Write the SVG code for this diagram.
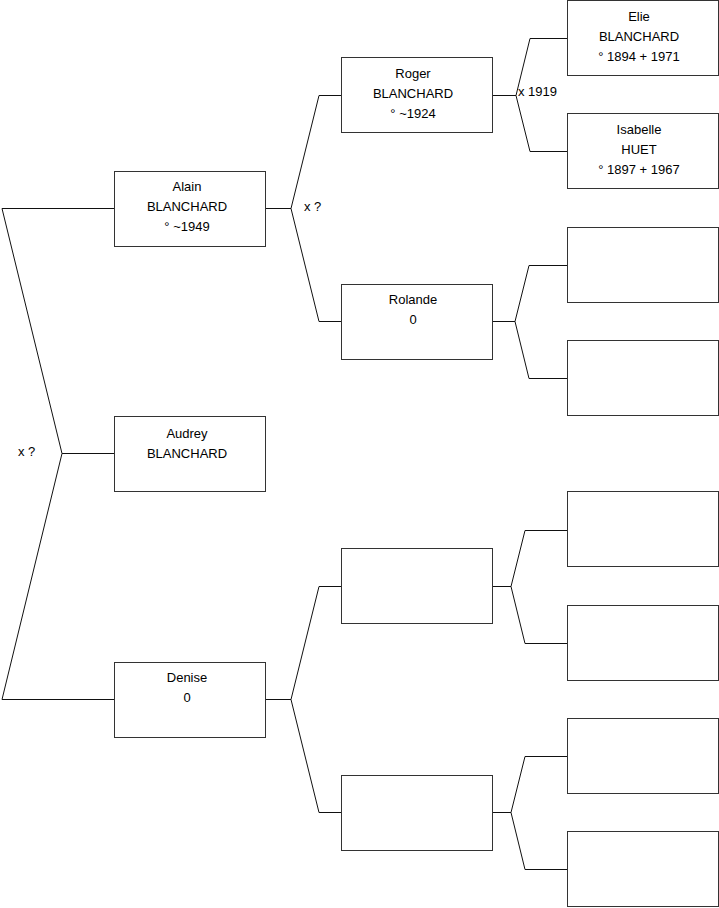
<svg xmlns="http://www.w3.org/2000/svg" width="719" height="908" viewBox="0 0 719 908">
<style>
.box{fill:#fff;stroke:#333;stroke-width:1}
.ln{fill:none;stroke:#111;stroke-width:1}
text{font-family:"Liberation Sans",Arial,sans-serif;font-size:13px;fill:#000}
.c{text-anchor:middle}
</style>
<rect width="719" height="908" fill="#fff"/>
<g id="connectors">
<polyline class="ln" points="114,208.5 2,208.5 62,453.5 2,699.5 114,699.5"/>
<polyline class="ln" points="62,453.5 114,453.5"/>
<polyline class="ln" points="265,208.5 291,208.5"/>
<polyline class="ln" points="341,95.5 319,95.5 291,208.5 319,321.5 341,321.5"/>
<polyline class="ln" points="265,699.5 291,699.5"/>
<polyline class="ln" points="341,586.5 319,586.5 291,699.5 319,812.5 341,812.5"/>
<polyline class="ln" points="492,95.5 516,95.5"/>
<polyline class="ln" points="567,38.5 530,38.5 516,95.5 530,151.5 567,151.5"/>
<polyline class="ln" points="492,321.5 515,321.5"/>
<polyline class="ln" points="567,265.5 529,265.5 515,321.5 529,378.5 567,378.5"/>
<polyline class="ln" points="492,586.5 511,586.5"/>
<polyline class="ln" points="567,530.5 525,530.5 511,586.5 525,643.5 567,643.5"/>
<polyline class="ln" points="492,812.5 511,812.5"/>
<polyline class="ln" points="567,756.5 525,756.5 511,812.5 525,869.5 567,869.5"/>
<text x="18" y="456">x ?</text>
<text x="304" y="211">x ?</text>
<text x="518" y="96">x 1919</text>
</g>
<g id="alain"><rect class="box" x="114.5" y="171.5" width="151" height="75"/>
<text class="c" x="187" y="191">Alain</text><text class="c" x="187" y="211">BLANCHARD</text><text class="c" x="187" y="231">° ~1949</text></g>
<g id="audrey"><rect class="box" x="114.5" y="416.5" width="151" height="75"/>
<text class="c" x="187" y="438">Audrey</text><text class="c" x="187" y="458">BLANCHARD</text></g>
<g id="denise"><rect class="box" x="114.5" y="662.5" width="151" height="75"/>
<text class="c" x="187" y="682">Denise</text><text class="c" x="187" y="702">0</text></g>
<g id="roger"><rect class="box" x="341.5" y="57.5" width="151" height="75"/>
<text class="c" x="413" y="78">Roger</text><text class="c" x="413" y="98">BLANCHARD</text><text class="c" x="413" y="118">° ~1924</text></g>
<g id="rolande"><rect class="box" x="341.5" y="284.5" width="151" height="75"/>
<text class="c" x="413" y="304">Rolande</text><text class="c" x="413" y="324">0</text></g>
<g id="p3"><rect class="box" x="341.5" y="548.5" width="151" height="75"/></g>
<g id="p4"><rect class="box" x="341.5" y="775.5" width="151" height="75"/></g>
<g id="elie"><rect class="box" x="567.5" y="0.5" width="151" height="75"/>
<text class="c" x="639" y="21">Elie</text><text class="c" x="639" y="41">BLANCHARD</text><text class="c" x="639" y="61">° 1894 + 1971</text></g>
<g id="isabelle"><rect class="box" x="567.5" y="113.5" width="151" height="75"/>
<text class="c" x="639" y="134">Isabelle</text><text class="c" x="639" y="154">HUET</text><text class="c" x="639" y="174">° 1897 + 1967</text></g>
<g id="g3"><rect class="box" x="567.5" y="227.5" width="151" height="75"/></g>
<g id="g4"><rect class="box" x="567.5" y="340.5" width="151" height="75"/></g>
<g id="g5"><rect class="box" x="567.5" y="491.5" width="151" height="75"/></g>
<g id="g6"><rect class="box" x="567.5" y="605.5" width="151" height="75"/></g>
<g id="g7"><rect class="box" x="567.5" y="718.5" width="151" height="75"/></g>
<g id="g8"><rect class="box" x="567.5" y="831.5" width="151" height="75"/></g>
</svg>
